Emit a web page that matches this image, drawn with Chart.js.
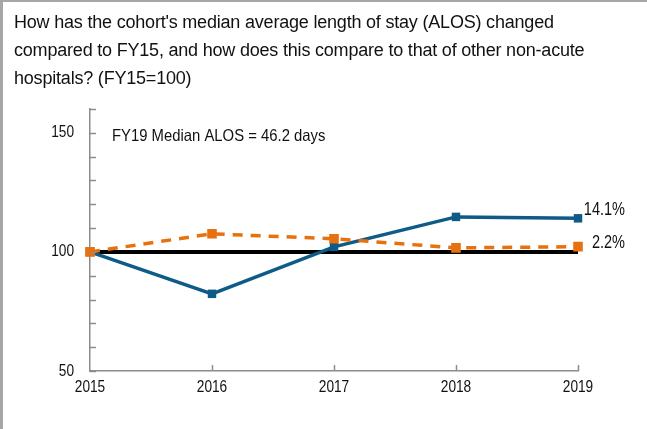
<!DOCTYPE html>
<html>
<head>
<meta charset="utf-8">
<script src="https://cdn.jsdelivr.net/npm/chart.js@4.4.1/dist/chart.umd.min.js"></script>
<style>
  html, body { margin: 0; padding: 0; background: #fff; }
  #wrap { position: relative; width: 647px; height: 429px; overflow: hidden; }
  #frameLeft { position: absolute; left: 0; top: 0; width: 3px; height: 429px; background: #a6a6a6; }
  #frameTop { position: absolute; left: 0; top: 0; width: 647px; height: 2px; background: #a6a6a6; }
  #title {
    position: absolute; left: 14px; top: 8px; white-space: nowrap;
    font-family: "Liberation Sans", Arial, sans-serif; font-size: 18px;
    letter-spacing: -0.2px; line-height: 28px; color: #111;
  }
  canvas { position: absolute; left: 0; top: 0; }
</style>
</head>
<body>
<div id="wrap">
  <canvas id="chart" width="647" height="429"></canvas>
  <div id="title">How has the cohort's median average length of stay (ALOS) changed<br>compared to FY15, and how does this compare to that of other non-acute<br>hospitals? (FY15=100)</div>
  <div id="frameLeft"></div>
  <div id="frameTop"></div>
</div>
<script>
// datos
const years = ['2015', '2016', '2017', '2018', '2019'];
const cohortValues = [100, 82.4, 102.1, 114.7, 114.1];
const peerValues = [100, 107.6, 105.5, 101.7, 102.2];
const baselineValues = [100, 100, 100, 100, 100];
const endLabels = ['14.1%', '2.2%'];
const yLabelValues = [50, 100, 150];
const noteText = 'FY19 Median ALOS = 46.2 days';

const BLUE = '#0d5b86';
const ORANGE = '#e8710f';
const AXIS = '#8c8c8c';
const TEXT = '#111';
const FONT = '"Liberation Sans", Arial, sans-serif';

// texto estrecho (no hay Arial Narrow instalada)
function drawNarrow(ctx, text, x, y, align, size, sx) {
    ctx.save();
    ctx.translate(x, y);
    ctx.scale(sx, 1);
    ctx.font = size + 'px ' + FONT;
    ctx.textAlign = align;
    ctx.textBaseline = 'middle';
    ctx.fillStyle = TEXT;
    ctx.fillText(text, 0, 0);
    ctx.restore();
}

// marcas hacia dentro del eje + textos
const extrasPlugin = {
    id: 'extras',
    afterDatasetsDraw(chart) {
        const ctx = chart.ctx;
        const x = chart.scales.x;
        const y = chart.scales.y;
        const area = chart.chartArea;
        ctx.save();
        ctx.strokeStyle = AXIS;
        ctx.lineWidth = 1.5;
        y.ticks.forEach(t => {
            const py = Math.round(y.getPixelForValue(t.value)) + 0.5;
            ctx.beginPath();
            ctx.moveTo(area.left, py);
            ctx.lineTo(area.left + 6, py);
            ctx.stroke();
        });
        years.forEach((yr, i) => {
            if (i === 0) return;
            const px = Math.round(x.getPixelForValue(i)) + 0.5;
            ctx.beginPath();
            ctx.moveTo(px, area.bottom);
            ctx.lineTo(px, area.bottom - 6);
            ctx.stroke();
        });
        ctx.restore();

        // etiquetas de los ejes
        yLabelValues.forEach(v => {
            drawNarrow(ctx, String(v), area.left - 16, y.getPixelForValue(v), 'right', 16.5, 0.83);
        });
        years.forEach((yr, i) => {
            drawNarrow(ctx, yr, x.getPixelForValue(i), area.bottom + 16, 'center', 16.5, 0.83);
        });

        // nota
        drawNarrow(ctx, noteText, area.left + 22, y.getPixelForValue(150) + 4, 'left', 16.5, 0.9);

        // etiquetas finales
        const last = years.length - 1;
        const series = [cohortValues, peerValues];
        const dy = [-8, -3];
        series.forEach((s, i) => {
            drawNarrow(ctx, endLabels[i], area.right + 47, y.getPixelForValue(s[last]) + dy[i], 'right', 17.5, 0.83);
        });
    }
};

new Chart(document.getElementById('chart'), {
    type: 'line',
    data: {
        labels: years,
        datasets: [
            {
                label: 'Other non-acute hospitals',
                data: peerValues,
                borderColor: ORANGE,
                backgroundColor: ORANGE,
                borderWidth: 3.5,
                borderDash: [10, 8],
                pointStyle: 'rect',
                pointRadius: 6.8,
                pointBorderWidth: 0,
                order: 0
            },
            {
                label: 'Cohort',
                data: cohortValues,
                borderColor: BLUE,
                backgroundColor: BLUE,
                borderWidth: 3.5,
                pointStyle: 'rect',
                pointRadius: 6,
                pointBorderWidth: 0,
                order: 1
            },
            {
                label: 'FY15',
                data: baselineValues,
                borderColor: '#000',
                borderWidth: 4,
                pointRadius: 0,
                order: 2
            }
        ]
    },
    options: {
        responsive: false,
        animation: false,
        layout: { padding: { top: 109, right: 69, bottom: 0, left: 0 } },
        plugins: {
            legend: { display: false },
            tooltip: { enabled: false },
            title: { display: false }
        },
        scales: {
            x: {
                offset: false,
                grid: { display: false, drawTicks: false },
                border: { color: AXIS, width: 1.5 },
                ticks: { display: false },
                afterFit(scale) { scale.height = 58; }
            },
            y: {
                min: 50,
                max: 160,
                grid: { display: false, drawTicks: false },
                border: { color: AXIS, width: 1.5 },
                ticks: { stepSize: 10, display: false },
                afterFit(scale) { scale.width = 90; }
            }
        }
    },
    plugins: [extrasPlugin]
});
</script>
</body>
</html>
